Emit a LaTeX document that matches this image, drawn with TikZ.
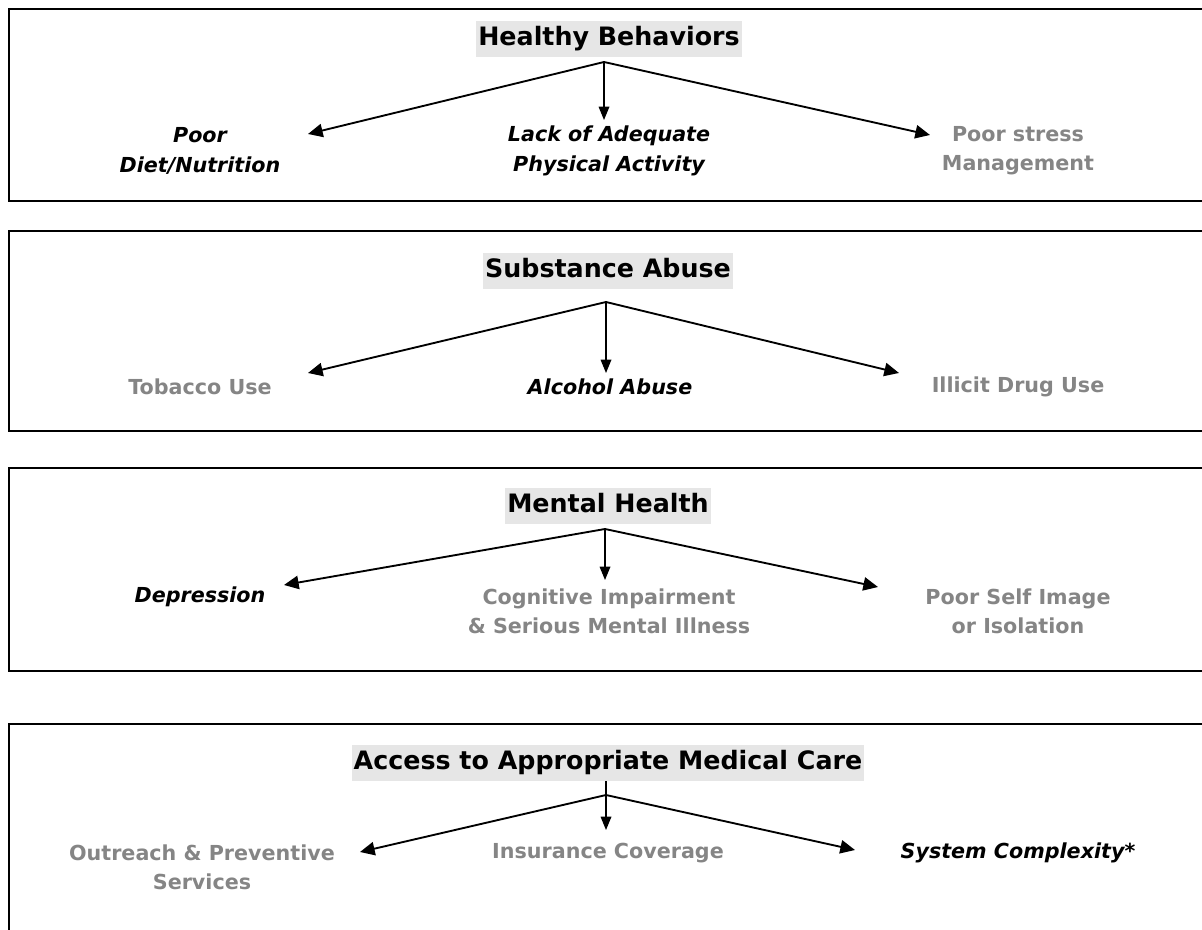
\documentclass[tikz,border=0pt]{standalone}
\usepackage{fontspec}
\setmainfont{DejaVu Sans}
\usetikzlibrary{arrows.meta}

\definecolor{headbg}{HTML}{E6E6E6}
\definecolor{fadetext}{HTML}{858585}

\tikzset{
  panel/.style={draw=black,line width=1.5pt},
  heading/.style={fill=headbg,font=\bfseries\fontsize{19}{22}\selectfont,
    inner xsep=1.5pt,inner ysep=4.3pt,text height=14pt,text depth=4.5pt},
  keyitem/.style={font=\bfseries\itshape\fontsize{15.5}{22}\selectfont,align=center},
  fadeitem/.style={text=fadetext,font=\bfseries\fontsize{15.5}{22}\selectfont,align=center},
  branch/.style={line width=1.4pt,-{Triangle[length=11pt,width=10pt]}},
  stem/.style={line width=0.9pt,-{Triangle[length=10pt,width=8pt]}},
}

\begin{document}
\begin{tikzpicture}[x=0.75pt,y=-0.75pt]
\useasboundingbox (0,0) rectangle (1202,930);
% panels
\draw[panel] (9,9) rectangle (1220,201);
\draw[panel] (9,231) rectangle (1220,431);
\draw[panel] (9,468) rectangle (1220,671);
\draw[panel] (9,724) rectangle (1220,950);

% healthy behaviors
\node[heading] (hb) at (609,39) {Healthy Behaviors};
\coordinate (hb_o) at (604,62);
\node[keyitem] (hb_1) at (200,151) {Poor\\Diet/Nutrition};
\node[keyitem] (hb_2) at (609,151) {Lack of Adequate\\Physical Activity};
\node[fadeitem] (hb_3) at (1018,151) {Poor stress\\Management};
\coordinate (hb_t1) at (308,134);
\coordinate (hb_t2) at (604,120);
\coordinate (hb_t3) at (930,135);
\draw[branch] (hb_o) -- (hb_t1);
\draw[stem] (hb_o) -- (hb_t2);
\draw[branch] (hb_o) -- (hb_t3);

% substance abuse
\node[heading] (sa) at (608,271) {Substance Abuse};
\coordinate (sa_o) at (606,302);
\node[fadeitem] (sa_1) at (200,387) {Tobacco Use};
\node[keyitem] (sa_2) at (610,387) {Alcohol Abuse};
\node[fadeitem] (sa_3) at (1018,387) {Illicit Drug Use};
\coordinate (sa_t1) at (308,373);
\coordinate (sa_t2) at (606,373);
\coordinate (sa_t3) at (899,373);
\draw[branch] (sa_o) -- (sa_t1);
\draw[stem] (sa_o) -- (sa_t2);
\draw[branch] (sa_o) -- (sa_t3);

% mental health
\node[heading] (mh) at (608,506) {Mental Health};
\coordinate (mh_o) at (605,529);
\node[keyitem] (mh_1) at (200,597) {Depression};
\node[fadeitem] (mh_2) at (609,611) {Cognitive Impairment\\\& Serious Mental Illness};
\node[fadeitem] (mh_3) at (1018,611) {Poor Self Image\\or Isolation};
\coordinate (mh_t1) at (284,585);
\coordinate (mh_t2) at (605,580);
\coordinate (mh_t3) at (878,587);
\draw[branch] (mh_o) -- (mh_t1);
\draw[stem] (mh_o) -- (mh_t2);
\draw[branch] (mh_o) -- (mh_t3);

% access to care
\node[heading] (ac) at (608,763) {Access to Appropriate Medical Care};
\coordinate (ac_o) at (606,795);
\node[fadeitem] (ac_1) at (202,867) {Outreach \& Preventive\\Services};
\node[fadeitem] (ac_2) at (608,853) {Insurance Coverage};
\node[keyitem] (ac_3) at (1018,853) {System Complexity*};
\coordinate (ac_t1) at (360,852);
\coordinate (ac_t2) at (606,830);
\coordinate (ac_t3) at (855,850);
\draw[branch] (ac_o) -- (ac_t1);
\draw[stem] (ac.south -| ac_t2) -- (ac_t2);
\draw[branch] (ac_o) -- (ac_t3);
\end{tikzpicture}
\end{document}
